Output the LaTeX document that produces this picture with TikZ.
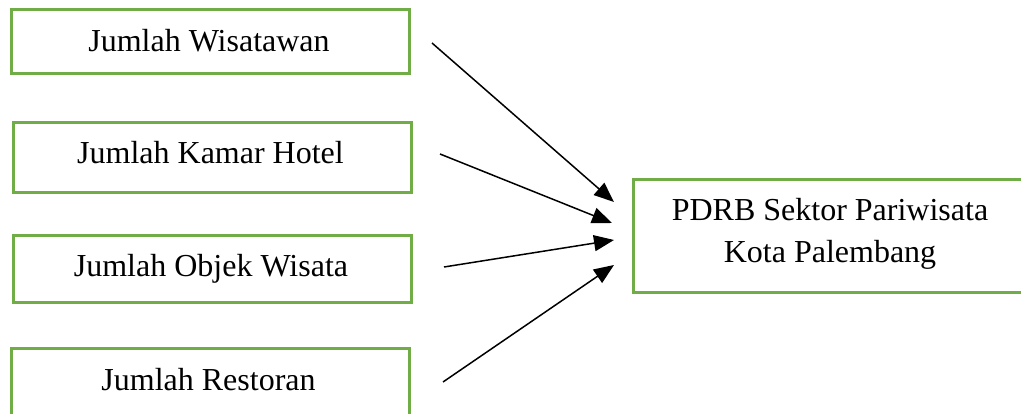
\documentclass[tikz,border=0pt]{standalone}
\usepackage{fontspec}
\setmainfont{Liberation Serif}
\usetikzlibrary{arrows.meta,calc}
\definecolor{boxgreen}{RGB}{112,173,71}
\begin{document}
\begin{tikzpicture}[x=1pt,y=-1pt,
  box/.style={draw=boxgreen,line width=3pt,rectangle,inner sep=0pt,minimum width=398pt},
  lbl/.style={anchor=base,inner sep=0pt,font=\fontsize{32}{42}\selectfont},
  conn/.style={line width=1.5pt,-{Triangle[length=20pt,width=16pt]}}]
\useasboundingbox (0,0) rectangle (1021,414);
\clip (0,0) rectangle (1021,414);
% boxes
\node[box,minimum height=64pt] (b1) at (210,42) {};
\node[box,minimum height=70pt] (b2) at (212,158) {};
\node[box,minimum height=67pt] (b3) at (212,269.5) {};
\node[box,minimum height=68pt] (b4) at (210,383) {};
\node[box,minimum width=394pt,minimum height=113pt] (p) at (830,236.5) {};
% labels
\node[lbl] (t1) at (209,52) {Jumlah Wisatawan};
\node[lbl] (t2) at (210.5,164) {Jumlah Kamar Hotel};
\node[lbl] (t3) at (211,277) {Jumlah Objek Wisata};
\node[lbl] (t4) at (208.5,390) {Jumlah Restoran};
\node[lbl] (p1) at (830,221) {PDRB Sektor Pariwisata};
\node[lbl] (p2) at (830,263) {Kota Palembang};
% connector ends
\coordinate (s1) at (432,43);
\coordinate (s2) at (440,154);
\coordinate (s3) at (444,267);
\coordinate (s4) at (443,382);
\coordinate (e1) at (614,202);
\coordinate (e2) at (612,223);
\coordinate (e3) at (614,240);
\coordinate (e4) at (614,265);
\draw[conn] (s1) -- (e1);
\draw[conn] (s2) -- (e2);
\draw[conn] (s3) -- (e3);
\draw[conn] (s4) -- (e4);
\end{tikzpicture}
\end{document}
